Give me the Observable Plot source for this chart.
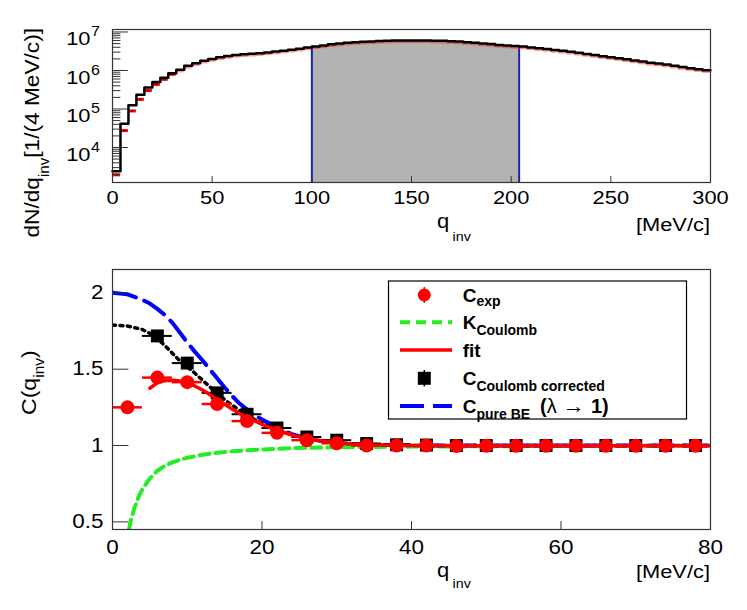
<!DOCTYPE html>
<html><head><meta charset="utf-8">
<script src="https://cdn.jsdelivr.net/npm/d3@7"></script>
<script src="https://cdn.jsdelivr.net/npm/@observablehq/plot@0.6"></script>
<style>
body{margin:0;background:#fff;font-family:"Liberation Sans",Arial,sans-serif;}
#chart{width:747px;height:610px;overflow:hidden;background:#fff;}
</style></head><body><div id="chart"></div>
<script>
// ================= DATA =================
// top panel: dN/dq_inv spectrum, 4 MeV/c bins from 0 to 300
const binWidth = 4;
const spectrumCounts = [
  2400, 41200, 126000, 234000, 363000, 501000, 646000, 851000, 1050000, 1320000,
  1550000, 1800000, 2000000, 2210000, 2370000, 2540000, 2630000, 2720000, 2820000, 2950000,
  3090000, 3270000, 3470000, 3670000, 3940000, 4220000, 4470000, 4790000, 5010000, 5250000,
  5430000, 5560000, 5690000, 5820000, 5920000, 6000000, 6030000, 6030000, 6030000, 6000000,
  5960000, 5890000, 5750000, 5620000, 5430000, 5250000, 5010000, 4840000, 4620000, 4470000,
  4320000, 4170000, 3980000, 3800000, 3630000, 3430000, 3240000, 3050000, 2880000, 2690000,
  2510000, 2340000, 2210000, 2090000, 1950000, 1820000, 1700000, 1580000, 1510000, 1430000,
  1320000, 1230000, 1150000, 1080000, 1020000
];
// red data points of the lowest bins (visibly below the black histogram)
const spectrumRedLow = [1950, 27500, 89000, 178000, 302000, 436000, 590000, 800000];
const fitWindow = [100, 204];
const topXTicks = [0, 50, 100, 150, 200, 250, 300];
const topYDecades = [4, 5, 6, 7];
const minorDecades = [3, 4, 5, 6];
const minorMultipliers = [2, 3, 4, 5, 6, 7, 8, 9];

// bottom panel: correlation functions
const qCenters = [2, 6, 10, 14, 18, 22, 26, 30, 34, 38, 42, 46, 50, 54, 58, 62, 66, 70, 74, 78];
const cExp = [1.25, 1.445, 1.415, 1.272, 1.16, 1.083, 1.035, 1.015, 1.0, 1.0, 1.0, 0.997, 0.998, 0.998, 0.999, 0.998, 0.998, 0.998, 0.999, 0.999];
const qCorr = [6, 10, 14, 18, 22, 26, 30, 34, 38, 42, 46, 50, 54, 58, 62, 66, 70, 74, 78];
const cCorr = [1.718, 1.54, 1.345, 1.205, 1.115, 1.056, 1.035, 1.013, 1.005, 1.003, 1.0, 1.0, 1.0, 1.0, 1.0, 1.0, 1.0, 1.0, 1.0];

const fitQ = [5, 6, 7, 8, 9, 10, 11, 12, 13, 14, 15, 16, 17, 18, 20, 22, 24, 26, 28, 30, 32, 35, 40, 50, 80];
const fitC = [1.375, 1.41, 1.425, 1.428, 1.422, 1.41, 1.39, 1.365, 1.335, 1.30, 1.27, 1.24, 1.21, 1.185, 1.138, 1.10, 1.068, 1.046, 1.03, 1.018, 1.01, 1.004, 1.0, 0.998, 0.998];

const corrFitQ = [0, 2, 4, 5, 6, 7, 8, 9, 10, 11, 12, 13, 14, 15, 16, 17, 18, 19, 20, 22, 24, 26, 28, 30, 32, 35, 40, 50, 80];
const corrFitC = [1.79, 1.783, 1.76, 1.735, 1.70, 1.655, 1.605, 1.555, 1.515, 1.475, 1.43, 1.385, 1.345, 1.30, 1.265, 1.23, 1.198, 1.17, 1.145, 1.103, 1.07, 1.045, 1.028, 1.017, 1.01, 1.004, 1.001, 1.0, 1.0];

const pureQ = [0, 2, 4, 5, 6, 7, 8, 9, 10, 11, 12, 13, 14, 15, 16, 17, 18, 19, 20, 21, 22, 23, 24, 26, 28, 30, 32, 35, 40, 80];
const pureC = [2.0, 1.99, 1.955, 1.93, 1.895, 1.855, 1.805, 1.74, 1.675, 1.615, 1.56, 1.5, 1.44, 1.38, 1.325, 1.275, 1.235, 1.2, 1.17, 1.145, 1.12, 1.095, 1.075, 1.047, 1.03, 1.018, 1.011, 1.005, 1.001, 1.0];

const coulQ = [2.2, 2.5, 3, 3.5, 4, 5, 6, 7, 8, 9, 10, 12, 14, 16, 18, 20, 24, 28, 32, 40, 50, 60, 80];
const coulC = [0.45, 0.52, 0.6, 0.665, 0.715, 0.785, 0.835, 0.868, 0.89, 0.907, 0.92, 0.94, 0.953, 0.962, 0.969, 0.974, 0.983, 0.987, 0.99, 0.993, 0.995, 0.997, 0.998];

const botXTicks = [0, 20, 40, 60, 80];
const botYTicks = [0.5, 1, 1.5, 2];

// ================= STYLE / LAYOUT =================
const font = "'Liberation Sans', Arial, Helvetica, sans-serif";
const W = 747, topH = 252, botH = 358, mL = 112, mR = 37;
const frameColor = "#333";
const axisStretch = 1.15;
const tickShape = {draw(context, l) { context.moveTo(0, 0); context.lineTo(0, -l); }};

// ================= TOP PANEL =================
const yMin = 1233, yMax = 1.16e7;
const bins = spectrumCounts.map((v, i) => ({x1: i * binWidth, x2: (i + 1) * binWidth, v}));
const stepPts = bins.flatMap(b => [{x: b.x1, y: b.v}, {x: b.x2, y: b.v}]);
const windowBins = bins.filter(b => b.x1 >= fitWindow[0] && b.x2 <= fitWindow[1]);
const windowStep = windowBins.flatMap(b => [{x: b.x1, y: b.v}, {x: b.x2, y: b.v}]);
const redLowBins = spectrumRedLow.map((v, i) => ({x1: i * binWidth, x2: (i + 1) * binWidth, v}));
const redHighBins = bins.slice(spectrumRedLow.length);
const edgeValue = e => d3.max(bins.filter(b => b.x1 === e || b.x2 === e), b => b.v);
const topMinor = minorDecades.flatMap(d => minorMultipliers.map(m => m * 10 ** d)).filter(v => v >= yMin && v <= yMax);

const topPlot = Plot.plot({
  width: W, height: topH, marginLeft: mL, marginRight: mR, marginTop: 29, marginBottom: 70,
  style: {fontFamily: font, background: "white", overflow: "visible"},
  x: {domain: [0, 300], axis: null},
  y: {type: "log", domain: [yMin, yMax], axis: null},
  marks: [
    Plot.areaY(windowStep, {x: "x", y1: () => yMin, y2: "y", fill: "#b3b3b3"}),
    Plot.ruleX(fitWindow, {x: d => d, y1: () => yMin, y2: d => edgeValue(d), stroke: "#1f1faa", strokeWidth: 2}),
    Plot.ruleY(redHighBins, {x1: "x1", x2: "x2", y: "v", dy: 1.2, stroke: "#ff2020", strokeWidth: 3, strokeOpacity: 0.5}),
    Plot.ruleY(redLowBins, {x1: "x1", x2: "x2", y: "v", stroke: "#ff0000", strokeWidth: 3}),
    Plot.dot(redLowBins, {x: d => (d.x1 + d.x2) / 2, y: "v", r: 1.1, fill: "#700"}),
    Plot.line(stepPts, {x: "x", y: "y", stroke: "black", strokeWidth: 2.5}),
    Plot.frame({stroke: frameColor, strokeWidth: 1.2}),
    Plot.vector(topXTicks, {x: d => d, y: () => yMin, length: 6, rotate: 0, anchor: "start", shape: tickShape, stroke: frameColor, strokeWidth: 1}),
    Plot.vector(topYDecades.map(d => 10 ** d), {x: () => 0, y: d => d, length: 15, rotate: 90, anchor: "start", shape: tickShape, stroke: frameColor, strokeWidth: 1}),
    Plot.vector(topMinor, {x: () => 0, y: d => d, length: 7.5, rotate: 90, anchor: "start", shape: tickShape, stroke: frameColor, strokeWidth: 1}),
    Plot.text(topXTicks, {x: d => d, y: () => yMin, dy: 21.5, text: d => String(d), fontSize: 19, lineAnchor: "bottom", textAnchor: "middle", fill: "black"}),
    Plot.text(topYDecades, {x: () => 0, y: d => 10 ** d, dx: -22, dy: 13.5, text: () => "10", fontSize: 19, lineAnchor: "bottom", textAnchor: "end", fill: "black"}),
    Plot.text(topYDecades, {x: () => 0, y: d => 10 ** d, dx: -21.5, dy: 4.5, text: d => String(d), fontSize: 14, lineAnchor: "bottom", textAnchor: "start", fill: "black"})
  ]
});

// ================= BOTTOM PANEL =================
const expPts = qCenters.map((q, i) => ({q, c: cExp[i]}));
const corrPts = qCorr.map((q, i) => ({q, c: cCorr[i]}));
const fitPts = fitQ.map((q, i) => ({q, c: fitC[i]}));
const corrFitPts = corrFitQ.map((q, i) => ({q, c: corrFitC[i]}));
const purePts = pureQ.map((q, i) => ({q, c: pureC[i]}));
const coulPts = coulQ.map((q, i) => ({q, c: coulC[i]}));
const halfBin = binWidth / 2;

const botPlot = Plot.plot({
  width: W, height: botH, marginLeft: mL, marginRight: mR, marginTop: 17, marginBottom: 81,
  style: {fontFamily: font, background: "white", overflow: "visible"},
  x: {domain: [0, 80], axis: null},
  y: {domain: [0.45, 2.153], axis: null},
  marks: [
    Plot.line(coulPts, {x: "q", y: "c", stroke: "#22ee22", strokeWidth: 4, strokeDasharray: "10,6", clip: true}),
    Plot.line(purePts, {x: "q", y: "c", stroke: "#0000ff", strokeWidth: 4, strokeDasharray: "24,9", clip: true}),
    Plot.line(corrFitPts, {x: "q", y: "c", stroke: "black", strokeWidth: 3.5, strokeDasharray: "3,4.5", clip: true}),
    Plot.ruleY(corrPts, {x1: d => d.q - halfBin, x2: d => d.q + halfBin, y: "c", stroke: "black", strokeWidth: 2}),
    Plot.dot(corrPts, {x: "q", y: "c", symbol: "square", r: 7.3, fill: "black"}),
    Plot.ruleY(expPts, {x1: d => d.q - halfBin, x2: d => d.q + halfBin, y: "c", stroke: "#ff0000", strokeWidth: 2.5}),
    Plot.line(fitPts, {x: "q", y: "c", stroke: "#ff0000", strokeWidth: 3.5, clip: true}),
    Plot.dot(expPts, {x: "q", y: "c", r: 7, fill: "#ff0000"}),
    Plot.frame({stroke: frameColor, strokeWidth: 1.2}),
    Plot.vector(botXTicks, {x: d => d, y: () => 0.45, length: 8, rotate: 0, anchor: "start", shape: tickShape, stroke: frameColor, strokeWidth: 1}),
    Plot.vector(botYTicks, {x: () => 0, y: d => d, length: 15.5, rotate: 90, anchor: "start", shape: tickShape, stroke: frameColor, strokeWidth: 1}),
    Plot.text(botXTicks, {x: d => d, y: () => 0.45, dy: 24, text: d => String(d), fontSize: 19.5, lineAnchor: "bottom", textAnchor: "middle", fill: "black"}),
    Plot.text(botYTicks, {x: () => 0, y: d => d, dx: -9, text: d => String(d), fontSize: 19.5, lineAnchor: "middle", textAnchor: "end", fill: "black"})
  ]
});

const chart = document.getElementById("chart");
chart.appendChild(topPlot);
chart.appendChild(botPlot);

// widen axis label glyphs horizontally (reference font is wider than Liberation Sans)
[topPlot, botPlot].forEach(svg => {
  d3.select(svg).selectAll('g[aria-label="text"] text').each(function () {
    const xa = this.getAttribute("x") || "";
    const xs = parseFloat(xa);
    const x0 = isFinite(xs) && !/em/.test(xa) ? xs : 0;
    const t = this.getAttribute("transform") || "";
    this.setAttribute("transform", `${t} translate(${x0},0) scale(${axisStretch},1) translate(${-x0},0)`);
  });
});

// ================= AXIS TITLES =================
function subText(svg, {x, y, rotate = 0, anchor = "start", size, sx = 1, parts}) {
  const t = d3.select(svg).append("text")
    .attr("transform", `translate(${x},${y}) rotate(${rotate}) scale(${sx},1)`)
    .attr("text-anchor", anchor).attr("fill", "black")
    .style("font-family", font).style("font-size", size + "px");
  parts.forEach(p => {
    const s = t.append("tspan").text(p.t);
    if (p.size) s.style("font-size", p.size + "px");
    if (p.dy) s.attr("dy", p.dy);
    if (p.dx) s.attr("dx", p.dx);
    if (p.weight) s.style("font-weight", p.weight);
  });
  return t;
}
// top
subText(topPlot, {x: 437, y: 228, size: 20, sx: 1.1, parts: [{t: "q"}, {t: "inv", size: 13, dy: 13, dx: 3}]});
subText(topPlot, {x: 710, y: 231, anchor: "end", size: 19, sx: axisStretch, parts: [{t: "[MeV/c]"}]});
subText(topPlot, {x: 39, y: 28, rotate: -90, anchor: "end", size: 21, sx: 1.08,
  parts: [{t: "dN/dq"}, {t: "inv", size: 14, dy: 10}, {t: "[1/(4 MeV/c)]", dy: -10}]});
// bottom
subText(botPlot, {x: 437, y: 577 - topH, size: 20, sx: 1.1, parts: [{t: "q"}, {t: "inv", size: 13, dy: 11, dx: 3}]});
subText(botPlot, {x: 710, y: 578 - topH, anchor: "end", size: 19, sx: axisStretch, parts: [{t: "[MeV/c]"}]});
subText(botPlot, {x: 36, y: 415 - topH, rotate: -90, anchor: "start", size: 21, sx: 1.1,
  parts: [{t: "C(q"}, {t: "inv", size: 14, dy: 8}, {t: ")", dy: -8}]});

// ================= LEGEND =================
const lg = d3.select(botPlot).append("g").style("font-family", font);
lg.append("rect").attr("x", 388.5).attr("y", 29).attr("width", 298).attr("height", 138)
  .attr("fill", "white").attr("stroke", "black").attr("stroke-width", 1.2);
const mx = 424.3, tx = 462.7;
// 1 C_exp
lg.append("line").attr("x1", mx).attr("x2", mx).attr("y1", 35).attr("y2", 51).attr("stroke", "#ff0000").attr("stroke-width", 1.5);
lg.append("circle").attr("cx", mx).attr("cy", 43).attr("r", 6.5).attr("fill", "#ff0000");
subText(botPlot, {x: tx, y: 49.7, size: 19, parts: [{t: "C", weight: "bold"}, {t: "exp", size: 14, dy: 4, weight: "bold"}]});
// 2 K_Coulomb
lg.append("line").attr("x1", 400).attr("x2", 452).attr("y1", 70.3).attr("y2", 70.3).attr("stroke", "#22ee22").attr("stroke-width", 4).attr("stroke-dasharray", "10,6");
subText(botPlot, {x: tx, y: 77.3, size: 19, parts: [{t: "K", weight: "bold"}, {t: "Coulomb", size: 14, dy: 5.5, weight: "bold"}]});
// 3 fit
lg.append("line").attr("x1", 400).attr("x2", 452).attr("y1", 98).attr("y2", 98).attr("stroke", "#ff0000").attr("stroke-width", 3.5);
subText(botPlot, {x: tx, y: 104.7, size: 19, parts: [{t: "fit", weight: "bold"}]});
// 4 C_Coulomb corrected
lg.append("line").attr("x1", mx).attr("x2", mx).attr("y1", 118).attr("y2", 134.5).attr("stroke", "black").attr("stroke-width", 1.5);
lg.append("rect").attr("x", mx - 6.5).attr("y", 126.3 - 6.5).attr("width", 13).attr("height", 13).attr("fill", "black");
subText(botPlot, {x: tx, y: 133, size: 19, parts: [{t: "C", weight: "bold"}, {t: "Coulomb corrected", size: 14, dy: 5.5, weight: "bold"}]});
// 5 C_pure BE
lg.append("line").attr("x1", 400).attr("x2", 452).attr("y1", 154).attr("y2", 154).attr("stroke", "#0000ff").attr("stroke-width", 4).attr("stroke-dasharray", "24,9");
subText(botPlot, {x: tx, y: 161.3, size: 19, parts: [{t: "C", weight: "bold"}, {t: "pure BE", size: 14, dy: 5.5, weight: "bold"}]});
subText(botPlot, {x: 540, y: 161.3, size: 20, parts: [{t: "(", weight: "bold"}, {t: "λ"}, {t: " → ", size: 22}, {t: "1)", weight: "bold"}]});
</script>
</body></html>
